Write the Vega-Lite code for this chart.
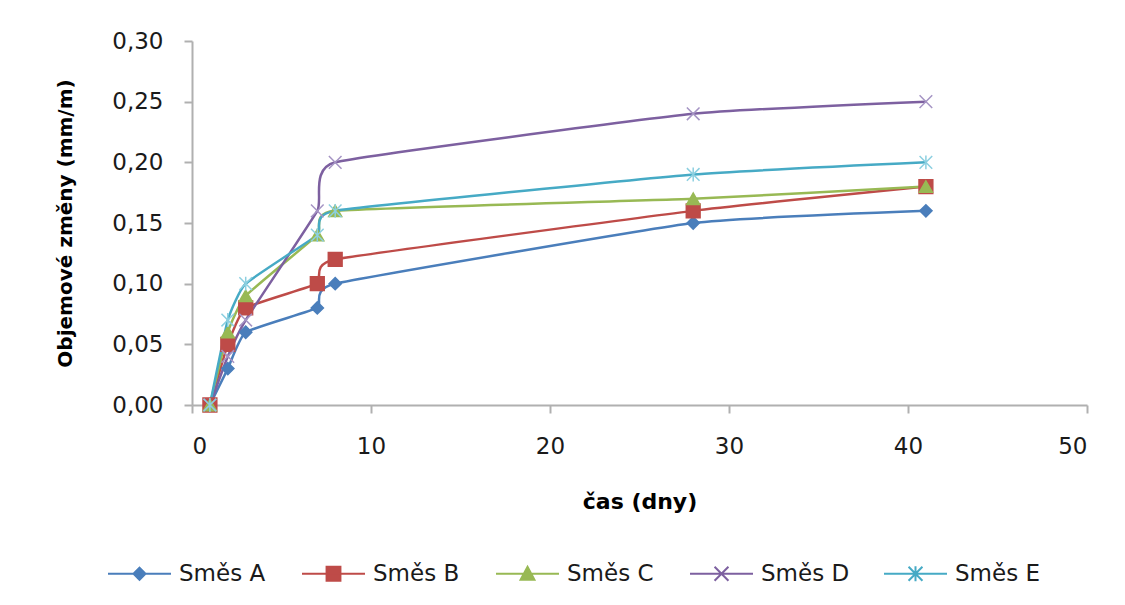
{
  "$schema": "https://vega.github.io/schema/vega-lite/v6.json",
  "autosize": {"type": "none"},
  "padding": {"left": 192, "top": 41, "right": 38, "bottom": 200},
  "width": 895,
  "height": 364,
  "background": "white",
  "config": {
    "view": {"stroke": null},
    "font": "DejaVu Sans",
    "axis": {
      "grid": false,
      "domainColor": "#b0b0b0",
      "domainWidth": 2,
      "tickColor": "#b0b0b0",
      "tickWidth": 2,
      "tickSize": 8,
      "labelFont": "DejaVu Sans",
      "labelFontSize": 23,
      "labelColor": "#1a1a1a",
      "titleFont": "DejaVu Sans",
      "titleColor": "#000000",
      "titleFontWeight": "bold"
    }
  },
  "data": {
    "values": [
      {"t": 1, "v": 0.0, "s": "Směs A"},
      {"t": 2, "v": 0.03, "s": "Směs A"},
      {"t": 3, "v": 0.06, "s": "Směs A"},
      {"t": 7, "v": 0.08, "s": "Směs A"},
      {"t": 8, "v": 0.10, "s": "Směs A"},
      {"t": 28, "v": 0.15, "s": "Směs A"},
      {"t": 41, "v": 0.16, "s": "Směs A"},
      {"t": 1, "v": 0.0, "s": "Směs B"},
      {"t": 2, "v": 0.05, "s": "Směs B"},
      {"t": 3, "v": 0.08, "s": "Směs B"},
      {"t": 7, "v": 0.10, "s": "Směs B"},
      {"t": 8, "v": 0.12, "s": "Směs B"},
      {"t": 28, "v": 0.16, "s": "Směs B"},
      {"t": 41, "v": 0.18, "s": "Směs B"},
      {"t": 1, "v": 0.0, "s": "Směs C"},
      {"t": 2, "v": 0.06, "s": "Směs C"},
      {"t": 3, "v": 0.09, "s": "Směs C"},
      {"t": 7, "v": 0.14, "s": "Směs C"},
      {"t": 8, "v": 0.16, "s": "Směs C"},
      {"t": 28, "v": 0.17, "s": "Směs C"},
      {"t": 41, "v": 0.18, "s": "Směs C"},
      {"t": 1, "v": 0.0, "s": "Směs D"},
      {"t": 2, "v": 0.04, "s": "Směs D"},
      {"t": 3, "v": 0.07, "s": "Směs D"},
      {"t": 7, "v": 0.16, "s": "Směs D"},
      {"t": 8, "v": 0.20, "s": "Směs D"},
      {"t": 28, "v": 0.24, "s": "Směs D"},
      {"t": 41, "v": 0.25, "s": "Směs D"},
      {"t": 1, "v": 0.0, "s": "Směs E"},
      {"t": 2, "v": 0.07, "s": "Směs E"},
      {"t": 3, "v": 0.10, "s": "Směs E"},
      {"t": 7, "v": 0.14, "s": "Směs E"},
      {"t": 8, "v": 0.16, "s": "Směs E"},
      {"t": 28, "v": 0.19, "s": "Směs E"},
      {"t": 41, "v": 0.20, "s": "Směs E"}
    ]
  },
  "encoding": {
    "x": {
      "field": "t",
      "type": "quantitative",
      "scale": {"domain": [0, 50], "nice": false, "zero": false},
      "axis": {
        "values": [0, 10, 20, 30, 40, 50],
        "title": "čas (dny)",
        "titleFontSize": 22,
        "titlePadding": 33,
        "labelPadding": 22
      }
    },
    "y": {
      "field": "v",
      "type": "quantitative",
      "scale": {"domain": [0, 0.3], "nice": false},
      "axis": {
        "values": [0, 0.05, 0.1, 0.15, 0.2, 0.25, 0.3],
        "labelExpr": "replace(format(datum.value, '.2f'), '.', ',')",
        "title": "Objemové změny (mm/m)",
        "titleFontSize": 20,
        "titlePadding": 36,
        "labelPadding": 21
      }
    }
  },
  "layer": [
    {
      "mark": {"type": "line", "interpolate": "cardinal", "tension": 0.6, "strokeWidth": 2.5},
      "encoding": {
        "color": {
          "field": "s",
          "type": "nominal",
          "scale": {
            "domain": ["Směs A", "Směs B", "Směs C", "Směs D", "Směs E"],
            "range": ["#4a7ebb", "#be4b48", "#98b954", "#7d60a0", "#46aac5"]
          },
          "legend": {
            "title": null,
            "orient": "none",
            "legendX": -85,
            "legendY": 500,
            "direction": "horizontal",
            "columns": 5,
            "gridAlign": "all",
            "columnPadding": 30,
            "padding": 0,
            "labelFont": "DejaVu Sans",
            "labelFontSize": 23,
            "labelColor": "#1a1a1a",
            "labelOffset": 7,
            "symbolSize": 3969,
            "symbolStrokeWidth": 2,
            "encode": {
              "symbols": {
                "update": {
                  "shape": {"signal": "datum.value === 'Směs A' ? 'M-1,0H1M-0.19,0L0,-0.19L0.19,0L0,0.19Z' : datum.value === 'Směs B' ? 'M-1,0H1M-0.22,-0.22H0.22V0.22H-0.22Z' : datum.value === 'Směs C' ? 'M-1,0H1M0,-0.22L0.22,0.19L-0.22,0.19Z' : datum.value === 'Směs D' ? 'M-1,0H1M-0.22,-0.22L0.22,0.22M-0.22,0.22L0.22,-0.22' : 'M-1,0H1M-0.22,-0.22L0.22,0.22M-0.22,0.22L0.22,-0.22M0,-0.24V0.24'"},
                  "fill": {"signal": "(datum.value === 'Směs D' || datum.value === 'Směs E') ? 'transparent' : scale('color', datum.value)"},
                  "stroke": {"signal": "scale('color', datum.value)"},
                  "strokeWidth": {"value": 2}
                }
              }
            }
          }
        }
      }
    },
    {
      "mark": {"type": "point", "filled": false, "strokeWidth": 1.5, "opacity": 1},
      "encoding": {
        "shape": {
          "condition": [
            {"test": "datum.s === 'Směs A'", "value": "diamond"},
            {"test": "datum.s === 'Směs B'", "value": "square"},
            {"test": "datum.s === 'Směs C'", "value": "triangle-up"},
            {"test": "datum.s === 'Směs D'", "value": "M-1,-1L1,1M-1,1L1,-1"}
          ],
          "value": "M-1,-1L1,1M-1,1L1,-1M0,-1.1L0,1.1"
        },
        "size": {
          "condition": [
            {"test": "datum.s === 'Směs A'", "value": 150},
            {"test": "datum.s === 'Směs B'", "value": 190},
            {"test": "datum.s === 'Směs C'", "value": 170}
          ],
          "value": 160
        },
        "stroke": {
          "condition": [
            {"test": "datum.s === 'Směs A'", "value": "#4a7ebb"},
            {"test": "datum.s === 'Směs B'", "value": "#be4b48"},
            {"test": "datum.s === 'Směs C'", "value": "#98b954"},
            {"test": "datum.s === 'Směs D'", "value": "#a594c4"}
          ],
          "value": "#8ccfe0"
        },
        "fill": {
          "condition": [
            {"test": "datum.s === 'Směs A'", "value": "#4a7ebb"},
            {"test": "datum.s === 'Směs B'", "value": "#be4b48"},
            {"test": "datum.s === 'Směs C'", "value": "#98b954"}
          ],
          "value": "transparent"
        }
      }
    }
  ]
}
